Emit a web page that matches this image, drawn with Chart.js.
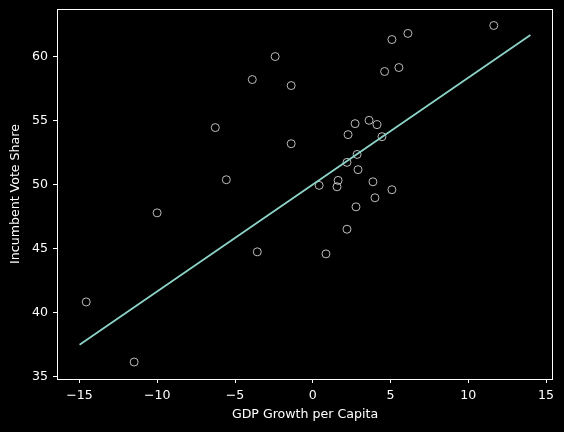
<!DOCTYPE html>
<html>
<head>
<meta charset="utf-8">
<script src="https://cdn.jsdelivr.net/npm/chart.js@4"></script>
<style>
  html, body { margin: 0; padding: 0; background: #000; }
  #wrap { width: 564px; height: 432px; }
</style>
</head>
<body>
<div id="wrap"><canvas id="voteChart" width="564" height="432"></canvas></div>
<script>
// Datele punctelor (crestere PIB / vot)
const gdpGrowth = [-14.57, -11.49, -10.01, -3.57, -6.27, -5.56, -3.89, -2.42, -1.39, -1.39,
    11.64, 6.12, 5.09, 5.54, 4.62, 2.72, 3.62, 4.13, 2.27, 4.45,
    2.85, 2.20, 2.91, 1.63, 1.56, 0.41, 3.87, 5.09, 4.00, 2.78, 2.20, 0.85];
const voteShare = [40.83, 36.13, 47.80, 44.75, 54.47, 50.39, 58.23, 60.03, 57.76, 53.21,
    62.46, 61.84, 61.36, 59.17, 58.86, 54.78, 55.04, 54.70, 53.92, 53.76,
    52.37, 51.75, 51.18, 50.34, 49.84, 49.95, 50.23, 49.61, 48.98, 48.27, 46.52, 44.59];

// Dreapta de regresie
const fitX = [-15, 14];
const fitY = [37.48, 61.72];

// Etichetele axelor
const xTicks = [-15, -10, -5, 0, 5, 10, 15];
const yTicks = [35, 40, 45, 50, 55, 60];

const tickFont = { family: 'DejaVu Sans', size: 12.6 };
const minus = v => String(v).replace('-', '\u2212');

// chenarul din jurul graficului
const frame = {
    id: 'frame',
    afterDraw(chart) {
        const a = chart.chartArea, c = chart.ctx;
        c.save();
        c.strokeStyle = '#ffffff';
        c.lineWidth = 1;
        c.strokeRect(a.left + 0.5, a.top + 0.5, a.right - a.left - 1, a.bottom - a.top);
        c.restore();
    }
};

const ctxVote = document.getElementById('voteChart').getContext('2d');
new Chart(ctxVote, {
    type: 'scatter',
    data: {
        datasets: [{
            type: 'line',
            data: fitX.map((x, i) => ({ x: x, y: fitY[i] })),
            borderColor: '#8dd3c7',
            borderWidth: 1.8,
            pointRadius: 0,
            fill: false,
            order: 1
        }, {
            data: gdpGrowth.map((x, i) => ({ x: x, y: voteShare[i] })),
            pointRadius: 4,
            pointBorderWidth: 0.9,
            borderColor: '#cfcfcf',
            backgroundColor: 'rgba(0,0,0,0)',
            order: 2
        }]
    },
    options: {
        responsive: false,
        animation: false,
        layout: { padding: { top: 9, right: 11, left: 0, bottom: 0 } },
        plugins: { legend: { display: false }, tooltip: { enabled: false } },
        scales: {
            x: {
                type: 'linear',
                min: -16.45,
                max: 15.45,
                afterFit: s => { s.height = 53; s.paddingLeft = 0; s.paddingRight = 0; },
                afterBuildTicks: s => { s.ticks = xTicks.map(v => ({ value: v })); },
                border: { display: false },
                grid: { drawOnChartArea: false, drawTicks: true, tickLength: 4, color: '#ffffff' },
                ticks: { color: '#ffffff', font: tickFont, padding: 5, maxRotation: 0, callback: minus },
                title: { display: true, text: 'GDP Growth per Capita', color: '#ffffff', font: tickFont, padding: { top: 0, bottom: 10 } }
            },
            y: {
                min: 34.8,
                max: 63.75,
                afterFit: s => { s.width = 57; s.paddingTop = 0; s.paddingBottom = 0; },
                afterBuildTicks: s => { s.ticks = yTicks.map(v => ({ value: v })); },
                border: { display: false },
                grid: { drawOnChartArea: false, drawTicks: true, tickLength: 4, color: '#ffffff' },
                ticks: { color: '#ffffff', font: tickFont, padding: 5, callback: minus },
                title: { display: true, text: 'Incumbent Vote Share', color: '#ffffff', font: tickFont, padding: { top: 8, bottom: 0 } }
            }
        }
    },
    plugins: [frame]
});
</script>
</body>
</html>
